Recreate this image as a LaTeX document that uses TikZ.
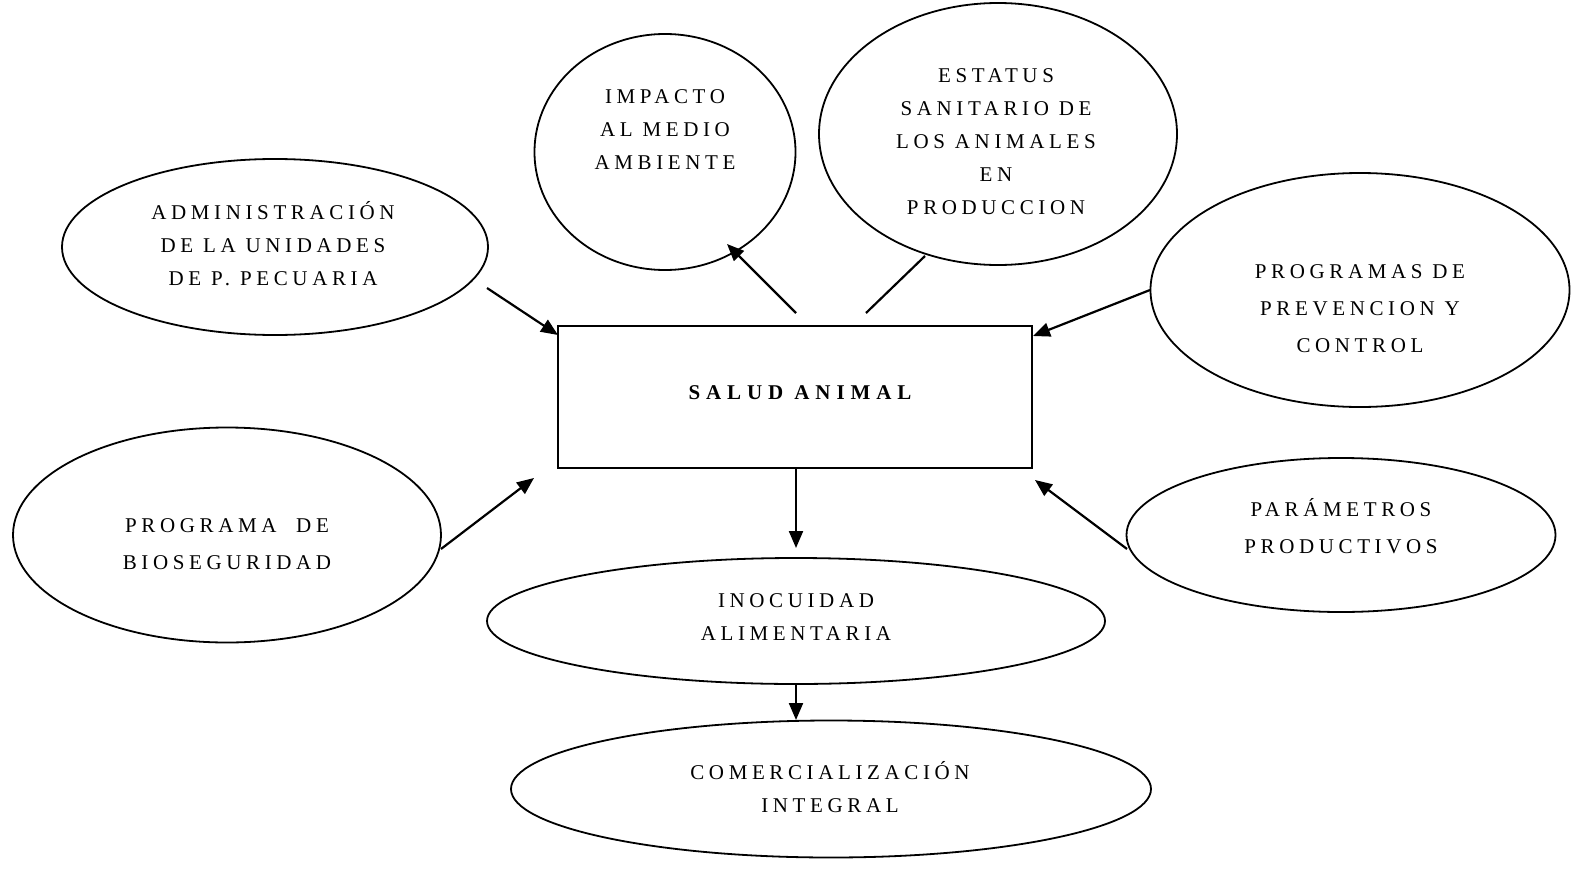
\documentclass[tikz,border=0pt]{standalone}
\usepackage{fontspec}
\setmainfont{Liberation Serif}[LetterSpace=22]
\usetikzlibrary{shapes.geometric,arrows.meta}
\begin{document}
\begin{tikzpicture}[x=1pt,y=-1pt,
  shp/.style={draw,line width=1.8pt,ellipse,inner sep=0pt},
  lbl/.style={align=center,font=\fontsize{21}{33}\selectfont},
  lblw/.style={align=center,font=\fontsize{21}{37}\selectfont},
  arr/.style={line width=2.2pt,-{Triangle[length=17pt,width=14pt]}},
  ln/.style={line width=2.2pt}]
\useasboundingbox (0,0) rectangle (1588,870);
% shapes
\node[draw,line width=1.8pt,minimum width=474pt,minimum height=142pt,inner sep=0pt] (box) at (795,397) {};
\node[shp,minimum width=426pt,minimum height=176pt] (adm) at (275,247) {};
\node[shp,minimum width=261pt,minimum height=236pt] (imp) at (665,152) {};
\node[shp,minimum width=358pt,minimum height=262pt] (est) at (998,134) {};
\node[shp,minimum width=419pt,minimum height=234pt] (prev) at (1360,290) {};
\node[shp,minimum width=428pt,minimum height=215pt] (bio) at (227,535) {};
\node[shp,minimum width=429pt,minimum height=154pt] (par) at (1341,535) {};
\node[shp,minimum width=618pt,minimum height=126pt] (ino) at (796,621) {};
\node[shp,minimum width=640pt,minimum height=137pt] (com) at (831,789) {};
% labels
\node[font=\fontsize{21}{33}\selectfont\bfseries\addfontfeatures{LetterSpace=28}] (boxt) at (800,393) {SALUD ANIMAL};
\node[lbl] (admt) at (273,244) {ADMINISTRACIÓN\\DE LA UNIDADES\\DE P. PECUARIA};
\node[lbl] (impt) at (665,130) {IMPACTO\\AL MEDIO\\AMBIENTE};
\node[lbl] (estt) at (996,142) {ESTATUS\\SANITARIO DE\\LOS ANIMALES\\EN\\PRODUCCION};
\node[lblw] (prevt) at (1360,309) {PROGRAMAS DE\\PREVENCION Y\\CONTROL};
\node[lblw] (biot) at (227,544) {PROGRAMA\ \ DE\\BIOSEGURIDAD};
\node[lblw] (part) at (1341,526) {PARÁMETROS\\PRODUCTIVOS};
\node[lbl] (inot) at (796,617) {INOCUIDAD\\ALIMENTARIA};
\node[lbl] (comt) at (830,787) {COMERCIALIZACIÓN\\INTEGRAL};
% connector ends
\coordinate (a1s) at (487,288); \coordinate (a1e) at (558,335);
\coordinate (a2s) at (796,313); \coordinate (a2e) at (727,244);
\coordinate (a3s) at (866,313); \coordinate (a3e) at (925,256);
\coordinate (a4s) at (1150,290); \coordinate (a4e) at (1033,336);
\coordinate (a5s) at (441,549); \coordinate (a5e) at (534,478);
\coordinate (a6s) at (1127,549); \coordinate (a6e) at (1035,480);
\coordinate (a7s) at (796,468); \coordinate (a7e) at (796,548);
\coordinate (a8s) at (796,684); \coordinate (a8e) at (796,720);
\draw[arr] (a1s) -- (a1e);
\draw[arr] (a2s) -- (a2e);
\draw[ln] (a3s) -- (a3e);
\draw[arr] (a4s) -- (a4e);
\draw[arr] (a5s) -- (a5e);
\draw[arr] (a6s) -- (a6e);
\draw[arr] (a7s) -- (a7e);
\draw[arr] (a8s) -- (a8e);
\end{tikzpicture}
\end{document}
